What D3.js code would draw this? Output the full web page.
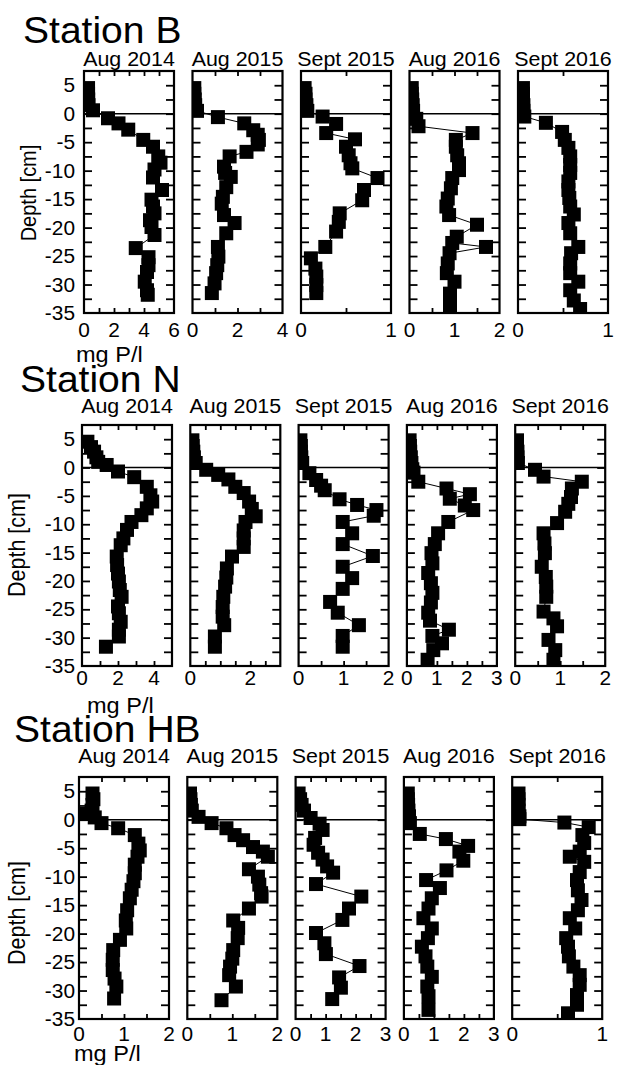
<!DOCTYPE html>
<html>
<head>
<meta charset="utf-8">
<script src="https://cdn.jsdelivr.net/npm/d3@7"></script>
<style>
  html, body { margin: 0; padding: 0; background: #fff; }
  svg { display: block; }
  text { font-family: "Liberation Sans", Arial, Helvetica, sans-serif; fill: #000; }
</style>
</head>
<body>
<svg id="fig" width="617" height="1065"></svg>
<script>
// ---- labels -------------------------------------------------------------
const stationNames = ["Station B", "Station N", "Station HB"];
const campaigns = ["Aug 2014", "Aug 2015", "Sept 2015", "Aug 2016", "Sept 2016"];
const depthTitle = "Depth [cm]";
const unitTitle = "mg P/l";

// ---- depth axis (cm, positive = overlying water) ------------------------
const depthExtent = [-35, 7.5];
const depthLabels = [5, 0, -5, -10, -15, -20, -25, -30, -35];
const depthTickStep = 2.5;

// ---- concentration axes per station, one entry per campaign -------------
const concMaxB = [6, 4, 1, 2, 1];
const concMaxN = [5, 3, 2, 3, 2];
const concMaxHB = [2, 2, 3, 3, 1];
const concLabelsB = [[0, 2, 4, 6], [0, 2, 4], [0, 1], [0, 1, 2], [0, 1]];
const concLabelsN = [[0, 2, 4], [0, 2], [0, 1, 2], [0, 1, 2, 3], [0, 1, 2]];
const concLabelsHB = [[0, 1, 2], [0, 1, 2], [0, 1, 2, 3], [0, 1, 2, 3], [0, 1]];
const concStepB = [1, 1, 0.5, 0.5, 0.5];
const concStepN = [1, 0.5, 0.5, 0.5, 0.5];
const concStepHB = [0.5, 0.5, 0.5, 0.5, 0.5];

// ---- porewater profiles: [depth cm, mg P/l] ------------------------------
const B_Aug2014 = [[4.5,0.27],[3.5,0.27],[2.5,0.28],[1.5,0.3],[0.6,0.6],[-0.8,1.6],[-1.7,2.3],[-2.8,2.95],[-4.6,3.95],[-5.8,4.6],[-7.5,4.95],[-8.6,5.1],[-9.8,4.7],[-11.2,4.6],[-13.4,5.2],[-15.1,4.5],[-16.3,4.6],[-17.5,4.7],[-18.7,4.4],[-19.9,4.5],[-21.3,4.7],[-23.6,3.45],[-25.2,4.3],[-26.6,4.3],[-27.8,4.2],[-29.5,4.05],[-31.0,4.2],[-31.8,4.25]];
const B_Aug2015 = [[4.5,0.08],[3.5,0.08],[2.5,0.1],[1.5,0.12],[0.5,0.2],[-0.6,1.13],[-1.7,2.3],[-2.9,2.7],[-3.7,2.9],[-4.6,2.95],[-5.4,2.9],[-6.7,2.4],[-7.5,1.65],[-9.3,1.4],[-10.4,1.45],[-11.1,1.7],[-12.9,1.5],[-14.6,1.35],[-15.8,1.3],[-17.8,1.4],[-19.2,1.87],[-21.0,1.5],[-23.4,1.13],[-25.1,1.15],[-26.6,1.1],[-28.0,1.05],[-29.8,0.98],[-31.5,0.86]];
const B_Sept2015 = [[4.5,0.04],[3.5,0.05],[2.5,0.05],[1.5,0.06],[0.5,0.07],[-0.5,0.24],[-1.8,0.39],[-3.4,0.28],[-4.5,0.6],[-5.8,0.5],[-7.3,0.53],[-8.7,0.55],[-9.6,0.57],[-11.3,0.85],[-13.4,0.7],[-15.2,0.68],[-17.5,0.43],[-19.0,0.42],[-20.7,0.39],[-23.4,0.27],[-25.4,0.11],[-27.2,0.16],[-28.6,0.17],[-30.1,0.17],[-31.5,0.17]];
const B_Aug2016 = [[4.5,0.05],[3.5,0.05],[2.5,0.06],[1.5,0.07],[0.5,0.08],[-0.9,0.15],[-2.2,0.2],[-3.4,1.4],[-4.6,1.03],[-5.8,1.03],[-7.3,1.06],[-8.7,1.1],[-9.9,1.1],[-11.3,0.95],[-13.1,0.92],[-14.9,0.85],[-16.3,0.82],[-17.8,0.88],[-19.5,1.5],[-21.6,1.05],[-22.7,0.95],[-23.4,1.7],[-24.5,0.89],[-26.3,0.85],[-28.0,0.83],[-29.5,1.0],[-31.6,0.9],[-33.6,0.9]];
const B_Sept2016 = [[4.5,0.055],[3.5,0.055],[2.5,0.055],[1.5,0.06],[0.5,0.06],[-0.5,0.07],[-1.6,0.31],[-3.2,0.49],[-4.6,0.52],[-6.0,0.56],[-7.5,0.58],[-9.0,0.58],[-10.4,0.58],[-11.9,0.56],[-13.4,0.56],[-14.8,0.57],[-16.3,0.58],[-17.7,0.62],[-19.2,0.56],[-21.0,0.58],[-23.4,0.67],[-24.5,0.59],[-26.3,0.58],[-28.0,0.58],[-29.5,0.67],[-31.0,0.58],[-32.8,0.62],[-34.3,0.69]];

const N_Aug2014 = [[4.55,0.3],[3.6,0.5],[2.8,0.67],[1.8,0.8],[1.0,0.9],[0.45,1.37],[-0.7,2.0],[-1.7,2.9],[-3.4,3.6],[-4.9,3.8],[-6.0,3.9],[-7.2,3.6],[-8.4,3.3],[-9.6,2.75],[-11.0,2.5],[-12.5,2.3],[-13.7,2.15],[-15.7,1.93],[-17.2,1.95],[-18.7,2.0],[-20.1,2.05],[-21.6,2.1],[-22.8,2.2],[-24.5,2.0],[-25.7,2.05],[-27.2,2.15],[-28.6,2.05],[-29.8,2.05],[-31.6,1.33]];
const N_Aug2015 = [[4.8,0.07],[3.8,0.08],[2.8,0.1],[1.8,0.12],[0.8,0.18],[-0.4,0.53],[-1.3,0.93],[-2.1,1.27],[-3.4,1.5],[-4.5,1.78],[-6.0,1.96],[-7.3,2.05],[-8.6,2.18],[-9.6,1.84],[-11.1,1.78],[-12.5,1.78],[-14.0,1.78],[-15.7,1.39],[-17.8,1.22],[-19.4,1.2],[-21.0,1.16],[-22.8,1.1],[-24.6,1.08],[-26.3,1.08],[-27.8,1.13],[-29.8,0.82],[-31.6,0.82]];
const N_Sept2015 = [[4.8,0.04],[3.8,0.05],[2.8,0.05],[1.8,0.06],[0.8,0.08],[-1.0,0.24],[-2.2,0.39],[-3.2,0.5],[-4.0,0.58],[-5.6,0.91],[-6.6,1.3],[-7.5,1.73],[-8.5,1.67],[-9.6,0.98],[-11.6,1.19],[-13.5,0.98],[-15.6,1.65],[-17.5,0.98],[-19.5,1.19],[-21.4,0.98],[-23.7,0.7],[-25.6,0.87],[-27.8,1.34],[-29.7,0.98],[-31.6,0.98]];
const N_Aug2016 = [[4.8,0.09],[3.8,0.1],[2.8,0.11],[1.8,0.13],[0.8,0.15],[-0.3,0.18],[-0.9,0.22],[-2.5,0.38],[-3.7,1.32],[-4.7,2.1],[-5.5,1.43],[-6.7,1.93],[-7.5,2.21],[-9.6,1.38],[-11.6,1.04],[-13.5,0.93],[-15.1,0.82],[-16.9,0.85],[-18.6,0.71],[-20.4,0.8],[-22.1,0.85],[-23.8,0.8],[-25.6,0.71],[-27.0,0.77],[-28.6,1.4],[-29.7,0.85],[-31.0,1.17],[-32.2,0.88],[-33.9,0.69]];
const N_Sept2016 = [[4.8,0.04],[3.8,0.04],[2.8,0.05],[1.8,0.05],[0.8,0.06],[-0.4,0.44],[-1.6,0.63],[-2.5,1.48],[-3.7,1.26],[-5.2,1.24],[-6.4,1.18],[-7.8,1.11],[-9.8,0.93],[-11.6,0.63],[-13.4,0.65],[-15.1,0.66],[-17.5,0.59],[-19.3,0.68],[-21.0,0.69],[-22.8,0.69],[-25.4,0.63],[-26.6,0.85],[-28.0,0.93],[-30.4,0.74],[-32.2,0.89],[-33.9,0.85]];

const HB_Aug2014 = [[4.6,0.3],[3.6,0.32],[2.6,0.3],[1.6,0.28],[1.0,0.1],[0.4,0.35],[-0.6,0.5],[-1.5,0.87],[-2.7,1.24],[-4.2,1.32],[-5.4,1.35],[-6.5,1.3],[-7.9,1.24],[-9.4,1.24],[-10.8,1.21],[-12.3,1.17],[-13.8,1.13],[-15.9,1.07],[-17.7,1.04],[-19.1,1.05],[-21.1,0.91],[-22.9,0.76],[-24.6,0.75],[-26.4,0.75],[-27.9,0.79],[-29.3,0.83],[-31.4,0.78]];
const HB_Aug2015 = [[4.6,0.06],[3.6,0.07],[2.6,0.08],[1.6,0.1],[0.5,0.25],[-0.6,0.54],[-1.5,0.87],[-2.7,1.05],[-3.6,1.24],[-4.8,1.46],[-5.6,1.68],[-6.5,1.79],[-8.7,1.37],[-10.0,1.57],[-11.4,1.6],[-12.9,1.64],[-13.5,1.65],[-15.6,1.37],[-17.7,1.02],[-19.0,1.13],[-20.8,1.12],[-22.9,1.02],[-24.4,1.0],[-25.8,0.95],[-27.3,0.93],[-29.3,1.08],[-31.7,0.76]];
const HB_Sept2015 = [[4.6,0.1],[3.6,0.15],[2.6,0.2],[1.6,0.28],[0.3,0.5],[-0.7,0.8],[-1.8,0.9],[-3.2,0.65],[-4.4,0.6],[-5.8,0.75],[-7.0,0.9],[-8.2,1.05],[-9.3,1.25],[-11.3,0.68],[-13.5,2.19],[-15.6,1.78],[-17.6,1.56],[-19.9,0.68],[-21.7,0.96],[-23.6,1.01],[-25.7,2.13],[-27.7,1.45],[-29.5,1.51],[-31.5,1.22]];
const HB_Aug2016 = [[4.6,0.13],[3.6,0.13],[2.6,0.14],[1.6,0.15],[0.6,0.17],[-0.6,0.2],[-2.5,0.53],[-3.4,1.4],[-4.6,2.14],[-5.6,1.85],[-7.2,1.98],[-8.9,1.42],[-10.6,0.74],[-12.0,1.2],[-13.8,0.93],[-15.6,0.82],[-17.3,0.65],[-19.1,0.93],[-20.8,0.8],[-22.3,0.6],[-24.0,0.72],[-25.8,0.78],[-27.6,0.93],[-29.3,0.78],[-31.0,0.82],[-33.4,0.82]];
const HB_Sept2016 = [[4.6,0.07],[3.6,0.07],[2.6,0.07],[1.6,0.07],[0.6,0.08],[0.1,0.08],[-0.5,0.58],[-1.3,0.85],[-2.7,0.78],[-4.1,0.8],[-5.6,0.75],[-6.5,0.64],[-7.4,0.8],[-9.2,0.75],[-10.6,0.72],[-12.4,0.73],[-14.1,0.77],[-15.9,0.73],[-17.3,0.64],[-19.1,0.7],[-20.8,0.6],[-22.3,0.62],[-24.0,0.63],[-25.8,0.68],[-27.3,0.75],[-29.0,0.75],[-30.8,0.72],[-32.5,0.72],[-34.0,0.62]];

const profiles = [
  [B_Aug2014, B_Aug2015, B_Sept2015, B_Aug2016, B_Sept2016],
  [N_Aug2014, N_Aug2015, N_Sept2015, N_Aug2016, N_Sept2016],
  [HB_Aug2014, HB_Aug2015, HB_Sept2015, HB_Aug2016, HB_Sept2016]
];
const concMax = [concMaxB, concMaxN, concMaxHB];
const concLabels = [concLabelsB, concLabelsN, concLabelsHB];
const concStep = [concStepB, concStepN, concStepHB];

// ---- layout --------------------------------------------------------------
const rowLayout = [
  { titleX: 23, titleY: 43,  subY: 66,  top: 71,  bottom: 313,  left: 84, gap: 108.5, tickY: 337,  unitX: 76, unitY: 362,  depthX: 36, depthY: 193, depthSize: 20 },
  { titleX: 20, titleY: 392, subY: 413, top: 425, bottom: 666,  left: 82, gap: 108.3, tickY: 685,  unitX: 87, unitY: 713,  depthX: 25, depthY: 545, depthSize: 21.5 },
  { titleX: 14, titleY: 742, subY: 763, top: 777, bottom: 1019, left: 79, gap: 108.3, tickY: 1041, unitX: 74, unitY: 1061, depthX: 25, depthY: 913, depthSize: 21.5 }
];
const panelW = 90;
const markerSize = 14;
const textStretch = 1.07;   // glyphs are set slightly wide
const depthLabelRight = 75;

const svg = d3.select("#fig");
const defs = svg.append("defs");

function label(g, x, y, str, size, anchor, rotate) {
  return g.append("text")
    .attr("transform", `translate(${x},${y}) scale(${textStretch},1)` + (rotate ? ` rotate(${rotate})` : ""))
    .attr("font-size", size)
    .attr("text-anchor", anchor)
    .text(str);
}

function styleTicks(sel) {
  sel.select(".domain").remove();
  sel.selectAll(".tick line").attr("stroke", "#000").attr("stroke-width", 1.8);
  sel.selectAll(".tick text").remove();
}

profiles.forEach((row, r) => {
  const L = rowLayout[r];
  const g = svg.append("g").attr("class", "station");

  label(g, L.titleX, L.titleY, stationNames[r], 36.5, "start");
  label(g, L.depthX, L.depthY, depthTitle, L.depthSize, "middle", -90);
  label(g, L.unitX, L.unitY, unitTitle, 22, "start");

  const y = d3.scaleLinear().domain(depthExtent).range([L.bottom, L.top]);
  const depthTicks = d3.range(depthExtent[0] + depthTickStep, depthExtent[1] - 1e-9, depthTickStep);

  depthLabels.forEach(d => {
    label(g, depthLabelRight, y(d) + 7, String(d), 19.5, "end");
  });

  row.forEach((prof, c) => {
    const x0 = L.left + c * L.gap;
    const x1 = x0 + panelW;
    const xMax = concMax[r][c];
    const step = concStep[r][c];
    const x = d3.scaleLinear().domain([0, xMax]).range([x0, x1]);
    const concTicks = d3.range(step, xMax - 1e-9, step);
    const pg = g.append("g").attr("class", "panel");

    label(pg, (x0 + x1) / 2, L.subY, campaigns[c], 20, "middle");

    const clipId = `clip-${r}-${c}`;
    defs.append("clipPath").attr("id", clipId)
      .append("rect").attr("x", x0).attr("y", L.top).attr("width", panelW).attr("height", L.bottom - L.top);

    // sediment-water interface
    pg.append("line")
      .attr("x1", x0).attr("x2", x1).attr("y1", y(0)).attr("y2", y(0))
      .attr("stroke", "#000").attr("stroke-width", 1.6);

    const dg = pg.append("g").attr("clip-path", `url(#${clipId})`);
    dg.append("path")
      .datum(prof)
      .attr("d", d3.line().x(d => x(d[1])).y(d => y(d[0])))
      .attr("fill", "none").attr("stroke", "#000").attr("stroke-width", 1);
    dg.selectAll("rect").data(prof).join("rect")
      .attr("x", d => x(d[1]) - markerSize / 2)
      .attr("y", d => y(d[0]) - markerSize / 2)
      .attr("width", markerSize).attr("height", markerSize)
      .attr("fill", "#000");

    // inward ticks on all four sides
    pg.append("g").attr("transform", `translate(${x0},0)`)
      .call(d3.axisLeft(y).tickValues(depthTicks).tickSizeInner(-8).tickSizeOuter(0).tickFormat(""))
      .call(styleTicks);
    pg.append("g").attr("transform", `translate(${x1},0)`)
      .call(d3.axisRight(y).tickValues(depthTicks).tickSizeInner(-8).tickSizeOuter(0).tickFormat(""))
      .call(styleTicks);
    pg.append("g").attr("transform", `translate(0,${L.top})`)
      .call(d3.axisTop(x).tickValues(concTicks).tickSizeInner(-5).tickSizeOuter(0).tickFormat(""))
      .call(styleTicks);
    pg.append("g").attr("transform", `translate(0,${L.bottom})`)
      .call(d3.axisBottom(x).tickValues(concTicks).tickSizeInner(-5).tickSizeOuter(0).tickFormat(""))
      .call(styleTicks);

    pg.append("rect")
      .attr("x", x0).attr("y", L.top).attr("width", panelW).attr("height", L.bottom - L.top)
      .attr("fill", "none").attr("stroke", "#000").attr("stroke-width", 2.2);

    concLabels[r][c].forEach(v => {
      label(pg, x(v), L.tickY, String(v), 19.5, "middle");
    });
  });
});
</script>
</body>
</html>
